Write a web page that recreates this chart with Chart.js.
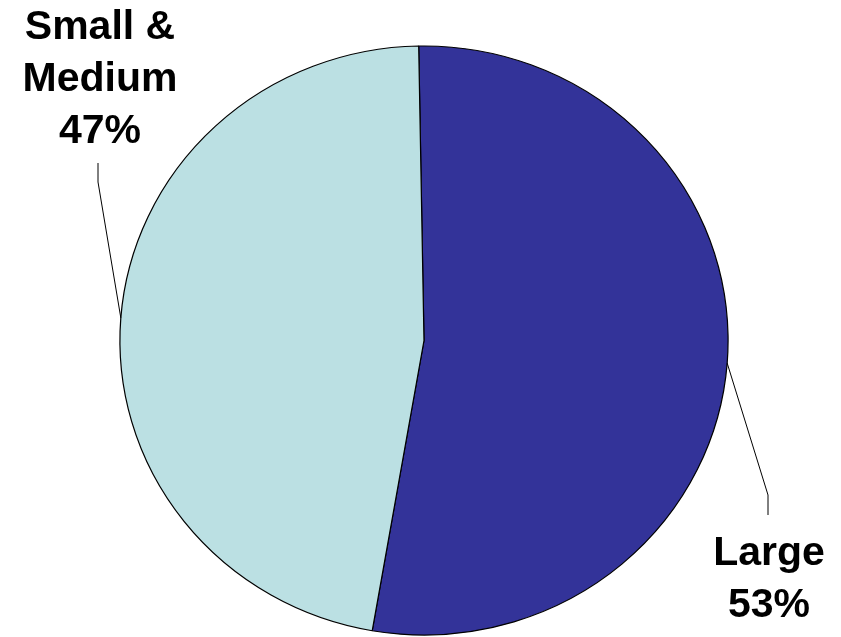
<!DOCTYPE html>
<html>
<head>
<meta charset="utf-8">
<script src="https://cdn.jsdelivr.net/npm/chart.js@4/dist/chart.umd.min.js"></script>
<style>
  html, body { margin: 0; padding: 0; background: #fff; }
  #wrap { width: 841px; height: 637px; }
</style>
</head>
<body>
<div id="wrap"><canvas id="pieChart"></canvas></div>
<script>
const categories = ["Large", "Small & Medium"];
const shares = [53, 47];
const sliceColors = ["#333399", "#BBE0E3"];

// the original pie is a little wider than tall
const stretchX = 1.017;
const stretchY = 0.985;

// label text lines, leader elbow and leader end for each slice
const labelSpots = [
    { x: 769, baselines: [565, 617], lines: ["Large", "53%"], elbow: [768, 495], end: [768, 515] },
    { x: 100, baselines: [39, 91, 143], lines: ["Small &", "Medium", "47%"], elbow: [98, 182], end: [98, 163] }
];

const ellipse = {
    id: "ellipse",
    beforeDatasetsDraw(chart) {
        const arc = chart.getDatasetMeta(0).data[0];
        const c = chart.ctx;
        c.save();
        c.translate(arc.x, arc.y);
        c.scale(stretchX, stretchY);
        c.translate(-arc.x, -arc.y);
    },
    afterDatasetsDraw(chart) {
        chart.ctx.restore();
    }
};

const leaderLabels = {
    id: "leaderLabels",
    afterDatasetsDraw(chart) {
        const c = chart.ctx;
        const arcs = chart.getDatasetMeta(0).data;
        c.save();
        arcs.forEach((arc, i) => {
            const spot = labelSpots[i];
            const mid = (arc.startAngle + arc.endAngle) / 2;
            const sx = arc.x + Math.cos(mid) * arc.outerRadius * stretchX;
            const sy = arc.y + Math.sin(mid) * arc.outerRadius * stretchY;

            c.strokeStyle = "#000";
            c.lineWidth = 1;
            c.beginPath();
            c.moveTo(sx, sy);
            c.lineTo(spot.elbow[0], spot.elbow[1]);
            c.lineTo(spot.end[0], spot.end[1]);
            c.stroke();

            c.fillStyle = "#000";
            c.font = "bold 41px 'Liberation Sans', Arial, sans-serif";
            c.textAlign = "center";
            c.textBaseline = "alphabetic";
            spot.lines.forEach((t, k) => c.fillText(t, spot.x, spot.baselines[k]));
        });
        c.restore();
    }
};

const ctx = document.getElementById("pieChart").getContext("2d");

const chart = new Chart(ctx, {
    type: "pie",
    data: {
        labels: categories,
        datasets: [{
            data: shares,
            backgroundColor: sliceColors,
            borderColor: "#000",
            borderWidth: 1.2,
            radius: 299
        }]
    },
    options: {
        responsive: true,
        maintainAspectRatio: false,
        animation: false,
        rotation: -1,
        layout: { padding: { left: 7, top: 44, right: 0, bottom: 0 } },
        plugins: {
            legend: { display: false },
            tooltip: { enabled: false }
        }
    },
    plugins: [ellipse, leaderLabels]
});
</script>
</body>
</html>
